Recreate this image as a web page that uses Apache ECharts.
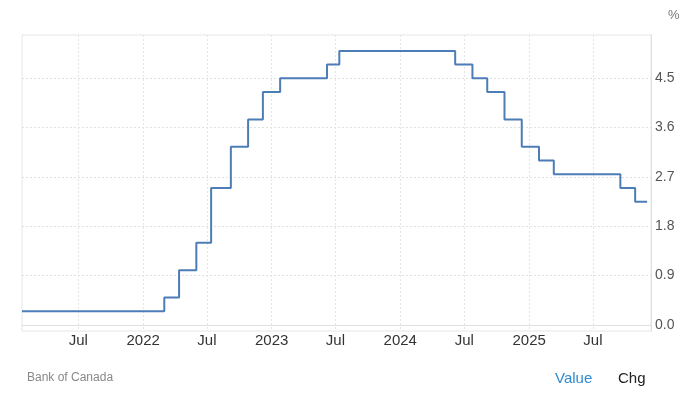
<!DOCTYPE html>
<html><head><meta charset="utf-8">
<script src="https://cdn.jsdelivr.net/npm/echarts@6/dist/echarts.min.js"></script>
<style>html,body{margin:0;padding:0;background:#fff}#c{width:687px;height:398px}</style>
</head><body><div id="c"></div>
<script>
// Bank of Canada policy rate (%), change dates and new levels
const dates = ['2021-01-22','2022-03-02','2022-04-13','2022-06-01','2022-07-13','2022-09-07','2022-10-26','2022-12-07','2023-01-25','2023-06-07','2023-07-12','2024-06-05','2024-07-24','2024-09-04','2024-10-23','2024-12-11','2025-01-29','2025-03-12','2025-09-17','2025-10-29','2025-12-02'];
const rates = [0.25,0.5,1.0,1.5,2.5,3.25,3.75,4.25,4.5,4.75,5.0,4.75,4.5,4.25,3.75,3.25,3.0,2.75,2.5,2.25,2.25];
const xTickDates = ['2021-07-01','2022-01-01','2022-07-01','2023-01-01','2023-07-01','2024-01-01','2024-07-01','2025-01-01','2025-07-01'];
const xTickLabels = ['Jul','2022','Jul','2023','Jul','2024','Jul','2025','Jul'];
const yTicks = [0.0,0.9,1.8,2.7,3.6,4.5];

const ts = d => new Date(d + 'T00:00:00Z').getTime();
const xTicksTs = xTickDates.map(ts);
const chart = echarts.init(document.getElementById('c'), null, {renderer:'canvas'});
const font = '"Liberation Sans", Arial, sans-serif';
chart.setOption({
  animation:false,
  textStyle:{fontFamily:font},
  grid:{left:22,right:36,top:35,bottom:67,show:true,borderColor:'#e6e6e6',borderWidth:1},
  xAxis:{
    type:'value', min:ts('2021-01-22'), max:ts('2025-12-13'),
    axisLine:{show:true,lineStyle:{color:'#e0e0e0'}},
    axisTick:{show:false, customValues:xTicksTs},
    axisLabel:{customValues:xTicksTs, color:'#333', fontSize:15, margin:2,
      formatter:v => { const i = xTicksTs.indexOf(v); return i>=0 ? xTickLabels[i] : ''; }},
    splitLine:{show:true,lineStyle:{color:'#e4e4e4',type:[2,2]}}
  },
  yAxis:{
    type:'value', position:'right', min:-0.11, max:5.29,
    name:'%', nameLocation:'end', nameGap:13,
    nameTextStyle:{color:'#777',fontSize:13,align:'left',padding:[0,0,0,17]},
    axisLine:{show:true,lineStyle:{color:'#e0e0e0'}},
    axisTick:{show:false, customValues:yTicks},
    axisLabel:{customValues:yTicks, color:'#555', fontSize:14, margin:4,
      formatter:v => v.toFixed(1)},
    splitLine:{show:true,lineStyle:{color:'#e0e0e0',type:[2,2]}}
  },
  series:[{
    type:'line', step:'end', showSymbol:false,
    data:dates.map((d,i)=>[ts(d),rates[i]]),
    lineStyle:{color:'#4c7db6',width:2}
  }],
  graphic:[
    {type:'text',left:27,top:372,style:{text:'Bank of Canada',fill:'#888',font:'12px '+font}},
    {type:'text',left:555,top:371,style:{text:'Value',fill:'#2f8ad0',font:'15px '+font}},
    {type:'text',left:618,top:371,style:{text:'Chg',fill:'#222',font:'15px '+font}}
  ]
});
</script></body></html>
